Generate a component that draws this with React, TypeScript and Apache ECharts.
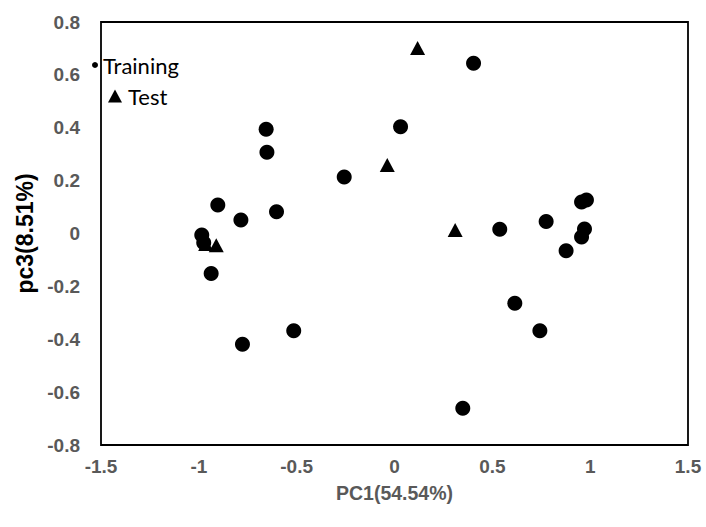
import React, { useEffect, useRef } from "react";
import * as echarts from "echarts";

const trainingX = [0.404, -0.656, -0.652, 0.031, -0.257, 0.538, -0.903, -0.603, -0.785, -0.985, -0.975, -0.937, -0.515, -0.777, 0.956, 0.981, 0.775, 0.971, 0.956, 0.877, 0.615, 0.743, 0.349];
const trainingY = [0.644, 0.394, 0.307, 0.404, 0.214, 0.016, 0.108, 0.082, 0.051, -0.006, -0.035, -0.151, -0.368, -0.419, 0.119, 0.127, 0.045, 0.017, -0.013, -0.065, -0.264, -0.368, -0.661];
const testX = [0.118, -0.037, 0.31, -0.965, -0.911];
const testY = [0.702, 0.259, 0.013, -0.04, -0.044];

const xTicks = { min: -1.5, max: 1.5, interval: 0.5 };
const yTicks = { min: -0.8, max: 0.8, interval: 0.2 };

const BOLD_FONT = "'Liberation Sans', Arial, sans-serif";
const LEGEND_FONT = "Lato";

export default function App() {
  const ref = useRef<HTMLDivElement>(null);
  useEffect(() => {
    if (!ref.current) return;
    const chart = echarts.init(ref.current, null, { renderer: "svg" });
    const labelStyle = { color: "#595959", fontWeight: "bold" as const, fontSize: 19, fontFamily: BOLD_FONT };
    chart.setOption({
      animation: false,
      backgroundColor: "#fff",
      grid: { left: 101, right: 18, top: 22, bottom: 82, show: true, borderColor: "#000", borderWidth: 1.8, backgroundColor: "transparent" },
      legend: [
        {
          data: ["Training"],
          left: 92,
          top: 54,
          padding: 0,
          icon: "circle",
          itemWidth: 6,
          itemHeight: 6,
          itemGap: 0,
          textStyle: { color: "#000", fontSize: 22, fontFamily: LEGEND_FONT, padding: [0, 0, 0, 0] },
        },
        {
          data: ["Test"],
          left: 108,
          top: 85,
          padding: 0,
          icon: "triangle",
          itemWidth: 14,
          itemHeight: 13,
          textStyle: { color: "#000", fontSize: 22, fontFamily: LEGEND_FONT, padding: [0, 0, 0, 1] },
        },
      ],
      xAxis: {
        type: "value",
        ...xTicks,
        axisLine: { show: false },
        axisTick: { show: false },
        splitLine: { show: false },
        axisLabel: { ...labelStyle, margin: 12 },
        name: "PC1(54.54%)",
        nameLocation: "middle",
        nameGap: 38,
        nameTextStyle: { ...labelStyle, fontSize: 19.5 },
      },
      yAxis: {
        type: "value",
        ...yTicks,
        axisLine: { show: false },
        axisTick: { show: false },
        splitLine: { show: false },
        axisLabel: { ...labelStyle, margin: 21 },
        name: "pc3(8.51%)",
        nameLocation: "middle",
        nameGap: 64,
        nameRotate: 90,
        nameTextStyle: { ...labelStyle, color: "#000", fontSize: 23 },
      },
      series: [
        {
          name: "Training",
          type: "scatter",
          symbol: "circle",
          symbolSize: 15,
          itemStyle: { color: "#000", opacity: 1 },
          data: trainingX.map((x, i) => [x, trainingY[i]]),
        },
        {
          name: "Test",
          type: "scatter",
          symbol: "triangle",
          symbolSize: [15, 14],
          itemStyle: { color: "#000", opacity: 1 },
          data: testX.map((x, i) => [x, testY[i]]),
        },
      ],
    });
    return () => chart.dispose();
  }, []);
  return <div ref={ref} style={{ position: "fixed", left: 0, top: 0, width: 706, height: 527 }} />;
}
